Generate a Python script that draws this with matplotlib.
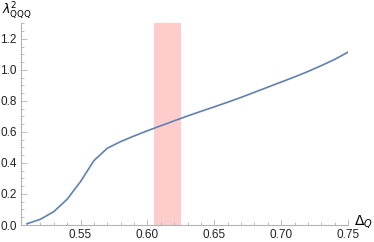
import numpy as np
import matplotlib
matplotlib.use('Agg')
import matplotlib.pyplot as plt
from matplotlib.ticker import MultipleLocator, FixedLocator

plt.rcParams['font.family'] = ['Liberation Sans', 'DejaVu Sans']
plt.rcParams['mathtext.fontset'] = 'dejavusans'

# curve
delta_q = [0.51, 0.52, 0.53, 0.54, 0.55, 0.56, 0.57, 0.58, 0.59, 0.60,
           0.61, 0.62, 0.63, 0.64, 0.65, 0.66, 0.67, 0.68, 0.69, 0.70,
           0.71, 0.72, 0.73, 0.74, 0.75]
lambda_sq = [0.008, 0.037, 0.086, 0.166, 0.28, 0.415, 0.495, 0.538, 0.574, 0.608,
             0.640, 0.672, 0.703, 0.733, 0.762, 0.792, 0.823, 0.856, 0.889, 0.922,
             0.955, 0.99, 1.028, 1.068, 1.115]
band = [0.605, 0.625]
xticks = [0.55, 0.60, 0.65, 0.70, 0.75]
yticks = [0.0, 0.2, 0.4, 0.6, 0.8, 1.0, 1.2]

fig = plt.figure(figsize=(3.74, 2.42), dpi=100)
ax = fig.add_axes([21/374, 17/242, 327/374, 202/242])

ax.axvspan(band[0], band[1], color='#ffcccc', lw=0)
ax.plot(delta_q, lambda_sq, color='#5e81b5', lw=1.2)

ax.set_xlim(0.5055, 0.75)
ax.set_ylim(0, 1.303)

for s in ['top', 'right']:
    ax.spines[s].set_visible(False)
for s in ['left', 'bottom']:
    ax.spines[s].set_color('#b3b3b3')
    ax.spines[s].set_linewidth(0.8)

ax.xaxis.set_major_locator(FixedLocator(xticks))
ax.xaxis.set_minor_locator(MultipleLocator(0.01))
ax.yaxis.set_major_locator(FixedLocator(yticks))
ax.yaxis.set_minor_locator(MultipleLocator(0.05))
ax.set_xticklabels(['%.2f' % v for v in xticks])
ax.set_yticklabels(['%.1f' % v for v in yticks])
ax.tick_params(which='both', direction='in', color='#b3b3b3', width=0.6,
               labelsize=8.5, labelcolor='#222222')
ax.tick_params(which='major', length=4, pad=3)
ax.tick_params(which='minor', length=2)

fig.text(2/374, 1 - 11/242, r'$\lambda^2_{\rm QQQ}$', fontsize=9, va='center', ha='left')
fig.text(354/374, 1 - 221/242, r'$\Delta_Q$', fontsize=10, va='center', ha='left')

fig.savefig('out.png', dpi=100)
